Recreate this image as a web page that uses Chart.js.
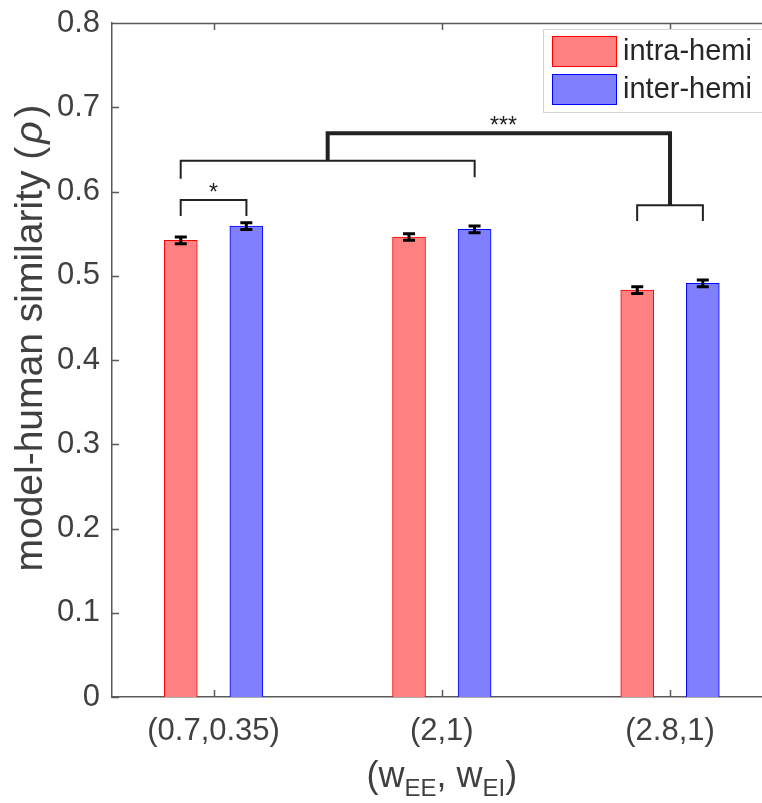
<!DOCTYPE html>
<html>
<head>
<meta charset="utf-8">
<script src="https://cdn.jsdelivr.net/npm/chart.js@4.4.1/dist/chart.umd.min.js"></script>
<style>
  html, body { margin: 0; padding: 0; background: #fff; }
  #wrap { width: 762px; height: 803px; }
</style>
</head>
<body>
<div id="wrap"><canvas id="chart" width="762" height="803"></canvas></div>
<script>
// model-human similarity per (wEE, wEI) setting

const groups = ['(0.7,0.35)', '(2,1)', '(2.8,1)'];
const intraHemi = [0.542, 0.546, 0.483];
const interHemi = [0.559, 0.555, 0.491];
const intraErr = [0.004, 0.004, 0.004];
const interErr = [0.004, 0.004, 0.004];
const yTicks = [0, 0.1, 0.2, 0.3, 0.4, 0.5, 0.6, 0.7, 0.8];

// significance brackets: [xLeft, xRight, yTop, yLeftFoot, yRightFoot, lineWidth]
const brackets = [
    [0.856, 1.144, 0.590, 0.571, 0.571, 2],
    [0.856, 2.144, 0.6365, 0.615, 0.617, 2],
    [2.856, 3.144, 0.5836, 0.565, 0.565, 2],
    [1.5, 3.0, 0.669, 0.6365, 0.5836, 4]
];
const sigLabels = ['*', '***'];
const sigLabelX = [1.0, 2.27];
const sigLabelY = [0.603, 0.683];

const OFF = 0.1436; // half distance between paired bars (x units)
const FONT = '"Liberation Sans", Arial, Helvetica, sans-serif';
const AXIS_COLOR = '#5a5a5a';
const TEXT_COLOR = '#404040';

const intraPts = intraHemi.map((v, i) => ({ x: i + 1 - OFF, y: v }));
const interPts = interHemi.map((v, i) => ({ x: i + 1 + OFF, y: v }));

const overlayPlugin = {
    id: 'overlay',
    afterDatasetsDraw(chart) {
        const ctx = chart.ctx;
        const xs = chart.scales.x, ys = chart.scales.y;
        const area = chart.chartArea;
        ctx.save();

        // error bars
        const errSets = [[intraPts, intraErr], [interPts, interErr]];
        ctx.strokeStyle = '#000';
        ctx.lineWidth = 3;
        errSets.forEach(([pts, errs]) => {
            pts.forEach((p, i) => {
                const px = xs.getPixelForValue(p.x);
                const top = ys.getPixelForValue(p.y + errs[i]);
                const bot = ys.getPixelForValue(p.y - errs[i]);
                ctx.beginPath();
                ctx.moveTo(px, top); ctx.lineTo(px, bot);
                ctx.moveTo(px - 6, top); ctx.lineTo(px + 6, top);
                ctx.moveTo(px - 6, bot); ctx.lineTo(px + 6, bot);
                ctx.stroke();
            });
        });

        // significance brackets
        ctx.strokeStyle = '#222';
        ctx.lineCap = 'butt';
        ctx.lineJoin = 'miter';
        brackets.forEach(([x1, x2, yt, yl, yr, w]) => {
            ctx.lineWidth = w;
            ctx.beginPath();
            ctx.moveTo(xs.getPixelForValue(x1), ys.getPixelForValue(yl));
            ctx.lineTo(xs.getPixelForValue(x1), ys.getPixelForValue(yt));
            ctx.lineTo(xs.getPixelForValue(x2), ys.getPixelForValue(yt));
            ctx.lineTo(xs.getPixelForValue(x2), ys.getPixelForValue(yr));
            ctx.stroke();
        });
        ctx.fillStyle = '#222';
        ctx.font = '23px ' + FONT;
        ctx.textAlign = 'center';
        ctx.textBaseline = 'middle';
        sigLabels.forEach((s, i) => {
            ctx.fillText(s, xs.getPixelForValue(sigLabelX[i]), ys.getPixelForValue(sigLabelY[i]) + 5);
        });

        // top frame line and inward ticks
        ctx.strokeStyle = AXIS_COLOR;
        ctx.lineWidth = 1.5;
        ctx.beginPath();
        ctx.moveTo(area.left, area.top + 0.5);
        ctx.lineTo(area.right, area.top + 0.5);
        [1, 2, 3].forEach(v => {
            const px = Math.round(xs.getPixelForValue(v)) + 0.5;
            ctx.moveTo(px, area.bottom); ctx.lineTo(px, area.bottom - 7);
            ctx.moveTo(px, area.top); ctx.lineTo(px, area.top + 7);
        });
        yTicks.forEach(v => {
            const py = Math.round(ys.getPixelForValue(v)) + 0.5;
            ctx.moveTo(area.left, py); ctx.lineTo(area.left + 7, py);
        });
        ctx.stroke();

        // legend
        const lx = 543, ly = 29;
        ctx.fillStyle = '#fff';
        ctx.fillRect(lx, ly, 240, 83);
        ctx.strokeStyle = '#d4d4d4';
        ctx.lineWidth = 1;
        ctx.strokeRect(lx + 0.5, ly + 0.5, 240, 83);
        chart.data.datasets.forEach((ds, i) => {
            const sy = 36 + i * 38;
            ctx.fillStyle = ds.backgroundColor;
            ctx.fillRect(552, sy, 65, 31);
            ctx.strokeStyle = ds.borderColor;
            ctx.lineWidth = 1;
            ctx.strokeRect(552.5, sy + 0.5, 64, 30);
            ctx.fillStyle = '#262626';
            ctx.font = '29px ' + FONT;
            ctx.textAlign = 'left';
            ctx.textBaseline = 'middle';
            ctx.fillText(ds.label, 623, sy + 16);
        });

        // y axis title with italic rho
        ctx.save();
        ctx.translate(31, 338);
        ctx.rotate(-Math.PI / 2);
        ctx.fillStyle = TEXT_COLOR;
        ctx.textBaseline = 'middle';
        ctx.textAlign = 'left';
        const pre = 'model-human similarity (', rho = '\u03C1', post = ')';
        ctx.font = '39px ' + FONT;
        const wPre = ctx.measureText(pre).width, wPost = ctx.measureText(post).width;
        ctx.font = 'italic 39px ' + FONT;
        const wRho = ctx.measureText(rho).width + 7;
        let cx = -(wPre + wRho + wPost) / 2;
        ctx.font = '39px ' + FONT;
        ctx.fillText(pre, cx, 0); cx += wPre;
        ctx.font = 'italic 39px ' + FONT;
        ctx.fillText(rho, cx + 3, 0); cx += wRho;
        ctx.font = '39px ' + FONT;
        ctx.fillText(post, cx, 0);
        ctx.restore();

        // x axis title with subscripts
        const parts = [['(w', 0], ['EE', 1], [', w', 0], ['EI', 1], [')', 0]];
        let total = 0;
        parts.forEach(([t, sub]) => {
            ctx.font = (sub ? '24px ' : '36px ') + FONT;
            total += ctx.measureText(t).width;
        });
        let tx = xs.getPixelForValue(2) - total / 2;
        const baseY = 787;
        ctx.fillStyle = TEXT_COLOR;
        ctx.textAlign = 'left';
        ctx.textBaseline = 'alphabetic';
        parts.forEach(([t, sub]) => {
            ctx.font = (sub ? '24px ' : '36px ') + FONT;
            ctx.fillText(t, tx, sub ? baseY + 9 : baseY);
            tx += ctx.measureText(t).width;
        });

        ctx.restore();
    }
};

new Chart(document.getElementById('chart'), {
    type: 'bar',
    data: {
        datasets: [
            {
                label: 'intra-hemi',
                data: intraPts,
                backgroundColor: 'rgb(255,128,128)',
                borderColor: 'rgb(255,0,0)',
                borderWidth: 1,
                barThickness: 33,
                grouped: false
            },
            {
                label: 'inter-hemi',
                data: interPts,
                backgroundColor: 'rgb(128,128,255)',
                borderColor: 'rgb(0,0,255)',
                borderWidth: 1,
                barThickness: 33,
                grouped: false
            }
        ]
    },
    options: {
        responsive: false,
        animation: false,
        layout: { padding: { top: 23, right: 0, left: 0, bottom: 0 } },
        plugins: {
            legend: { display: false },
            tooltip: { enabled: false }
        },
        scales: {
            x: {
                type: 'linear',
                offset: false,
                min: 0.555,
                max: 3.403,
                grid: { display: false, drawTicks: false, offset: false },
                border: { display: true, color: AXIS_COLOR, width: 1.5 },
                afterBuildTicks: (scale) => { scale.ticks = groups.map((g, i) => ({ value: i + 1 })); },
                afterFit: (scale) => {
                    scale.height = 106;
                    scale.paddingLeft = 0;
                    scale.paddingRight = 0;
                },
                ticks: {
                    color: TEXT_COLOR,
                    font: { family: FONT, size: 31 },
                    padding: 16,
                    maxRotation: 0,
                    autoSkip: false,
                    callback: (v) => groups[v - 1]
                }
            },
            y: {
                min: 0,
                max: 0.8,
                grid: { display: false, drawTicks: false },
                border: { display: true, color: AXIS_COLOR, width: 1.5 },
                afterBuildTicks: (scale) => { scale.ticks = yTicks.map(v => ({ value: v })); },
                afterFit: (scale) => {
                    scale.width = 112;
                    scale.paddingTop = 0;
                    scale.paddingBottom = 0;
                },
                ticks: {
                    color: TEXT_COLOR,
                    font: { family: FONT, size: 31 },
                    padding: 12,
                    callback: (v) => String(v)
                }
            }
        }
    },
    plugins: [overlayPlugin]
});
</script>
</body>
</html>
